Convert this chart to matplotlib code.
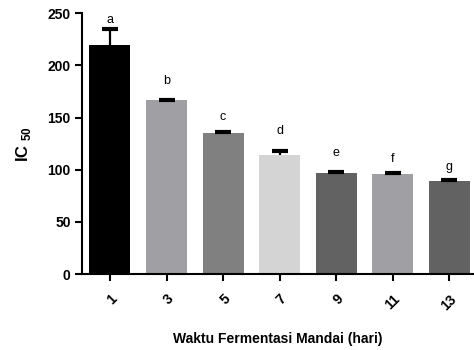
import matplotlib
matplotlib.use("Agg")
import matplotlib.pyplot as plt

plt.rcParams['font.family'] = ['Liberation Sans', 'DejaVu Sans']
plt.rcParams['mathtext.fontset'] = 'custom'
plt.rcParams['mathtext.rm'] = 'Liberation Sans'
plt.rcParams['mathtext.bf'] = 'Liberation Sans:bold'

categories = ['1', '3', '5', '7', '9', '11', '13']
values = [219.5, 166.5, 135.5, 114.0, 97.0, 96.2, 89.2]
errors = [15.5, 0.8, 0.8, 3.5, 0.8, 0.8, 0.8]
letters = ['a', 'b', 'c', 'd', 'e', 'f', 'g']
letter_y = [243.5, 185.5, 150.5, 137.5, 116.0, 110.5, 103.0]
colors = ['#000000', '#a0a0a4', '#808080', '#d4d4d4', '#626262', '#a0a0a4', '#626262']
yticks = [0, 50, 100, 150, 200, 250]

fig = plt.figure(figsize=(4.74, 3.5), dpi=100)
ax = fig.add_axes([0.1724, 0.217, 0.8276, 0.745])

x = list(range(len(categories)))
ax.bar(x, values, width=0.725, color=colors, edgecolor='none', zorder=2)
tops = [v + e for v, e in zip(values, errors)]
ax.vlines(x, values, tops, colors='black', linewidth=1.6, zorder=3)
ax.plot(x, tops, linestyle='none', marker='_', markersize=12, markeredgewidth=3,
        color='black', zorder=3)
for xi, lt, ly in zip(x, letters, letter_y):
    ax.text(xi, ly, lt, ha='center', va='center', fontsize=9)

ax.set_xlim(-0.5, 6.44)
ax.set_ylim(0, 250)
ax.set_yticks(yticks)
ax.set_yticklabels([str(t) for t in yticks], fontweight='bold', fontsize=10)
ax.set_xticks(x)
ax.set_xticklabels(categories, rotation=45, ha='right', rotation_mode='anchor',
                   fontweight='bold', fontsize=10)
for s in ['top', 'right']:
    ax.spines[s].set_visible(False)
for s in ['left', 'bottom']:
    ax.spines[s].set_linewidth(1.5)
ax.tick_params(axis='both', width=1.5, length=5)
ax.tick_params(axis='y', pad=3)
ax.tick_params(axis='x', pad=8)

ax.set_xlabel('Waktu Fermentasi Mandai (hari)', fontweight='bold', fontsize=10, labelpad=14)
ax.set_ylabel(r'IC $_{\mathbf{50}}$', fontweight='bold', fontsize=12, labelpad=10)

fig.savefig('out.png', dpi=100)
